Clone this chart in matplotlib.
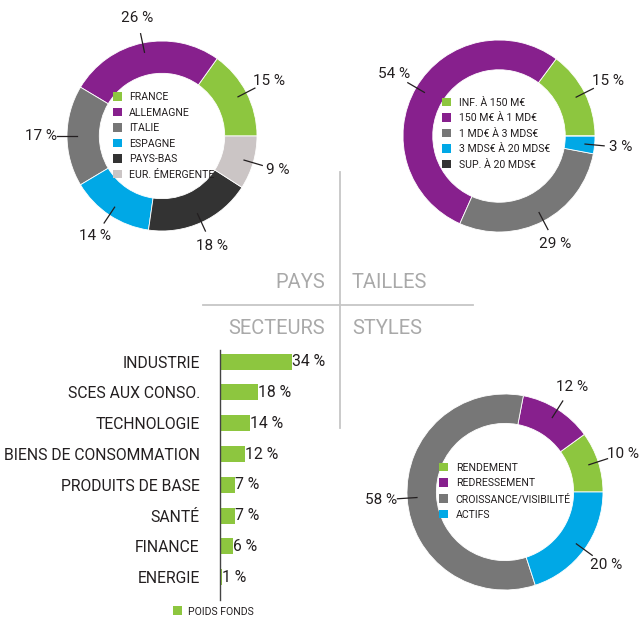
import numpy as np
import matplotlib
matplotlib.use("Agg")
import matplotlib.pyplot as plt
from matplotlib.lines import Line2D
from matplotlib.patches import Patch

plt.rcParams['font.family'] = ['Roboto', 'DejaVu Sans']

W, H = 643, 619
DARK = '#231f20'
GREEN = '#8dc63f'
PURPLE = '#87208d'
GRAY = '#777777'
BLUE = '#00a8e6'
BLACK = '#333333'
LIGHT = '#cbc5c5'

# --- data ---
pays_labels = ["FRANCE", "ALLEMAGNE", "ITALIE", "ESPAGNE", "PAYS-BAS", "EUR. ÉMERGENTE"]
pays_values = [15, 26, 17, 14, 18, 9]
pays_colors = [GREEN, PURPLE, GRAY, BLUE, BLACK, LIGHT]

tailles_labels = ["INF. À 150 M€", "150 M€ À 1 MD€", "1 MD€ À 3 MDS€", "3 MDS€ À 20 MDS€", "SUP. À 20 MDS€"]
tailles_values = [15, 54, 29, 3, 0]
tailles_colors = [GREEN, PURPLE, GRAY, BLUE, BLACK]

styles_labels = ["RENDEMENT", "REDRESSEMENT", "CROISSANCE/VISIBILITÉ", "ACTIFS"]
styles_values = [10, 12, 58, 20]
styles_colors = [GREEN, PURPLE, GRAY, BLUE]

secteurs = ["INDUSTRIE", "SCES AUX CONSO.", "TECHNOLOGIE", "BIENS DE CONSOMMATION",
            "PRODUITS DE BASE", "SANTÉ", "FINANCE", "ENERGIE"]
secteurs_values = [34, 18, 14, 12, 7, 7, 6, 1]

fig = plt.figure(figsize=(W / 100, H / 100), dpi=100)


def px_box(left, top, width, height):
    return [left / W, 1 - (top + height) / H, width / W, height / H]


def donut(cx, cy, R, values, colors, labels, ring, leg_xy):
    half = 1.5 * R
    ax = fig.add_axes(px_box(cx - half, cy - half, 2 * half, 2 * half))
    wedges, _ = ax.pie(values, colors=colors, startangle=0, radius=1,
                       wedgeprops=dict(width=ring, edgecolor='white', linewidth=0.6))
    for w, v in zip(wedges, values):
        if v == 0:
            continue
        t = np.deg2rad((w.theta1 + w.theta2) / 2)
        ax.plot([0.9 * np.cos(t), 1.1 * np.cos(t)], [0.9 * np.sin(t), 1.1 * np.sin(t)],
                color=DARK, lw=0.9)
        ax.text(1.27 * np.cos(t), 1.27 * np.sin(t), f"{v} %", ha='center', va='center',
                fontsize=11, color=DARK)
    handles = [Patch(facecolor=c, edgecolor='none') for c in colors]
    ax.legend(handles, labels, loc='upper left', bbox_to_anchor=leg_xy,
              bbox_transform=ax.transData, frameon=False, fontsize=7.6,
              handlelength=0.85, handleheight=0.85, handletextpad=0.7,
              labelspacing=0.52, borderpad=0, borderaxespad=0, labelcolor=DARK)
    ax.set_xlim(-1.5, 1.5)
    ax.set_ylim(-1.5, 1.5)
    ax.set_aspect('equal')
    ax.axis('off')
    return ax


donut(162, 136, 95, pays_values, pays_colors, pays_labels, 0.34, (-0.52, 0.46))
donut(499, 136, 96, tailles_values, tailles_colors, tailles_labels, 0.31, (-0.59, 0.40))
donut(505, 492, 98, styles_values, styles_colors, styles_labels, 0.30, (-0.67, 0.30))

# --- bar chart (secteurs) ---
bx = fig.add_axes(px_box(220, 350, 140, 250))
y = np.arange(len(secteurs))
bars = bx.barh(y, secteurs_values, height=0.52, color=GREEN, label="POIDS FONDS")
for yi, v in zip(y, secteurs_values):
    bx.text(v, yi, f"{v} %", ha='left', va='center', fontsize=11.3, color=DARK)
bx.set_xlim(0, 140 / 2.12)
bx.set_ylim(7.74, -0.38)
bx.set_yticks(y)
bx.set_yticklabels(secteurs, fontsize=11.3, color=DARK)
bx.tick_params(axis='y', length=0, pad=14.5)
bx.set_xticks([])
for s in ['top', 'right', 'bottom']:
    bx.spines[s].set_visible(False)
bx.spines['left'].set_color('#444444')
bx.spines['left'].set_linewidth(1)
bx.patch.set_alpha(0)
bx.legend(loc='center left', bbox_to_anchor=(173 / W, 1 - 611.5 / H),
          bbox_transform=fig.transFigure, frameon=False, fontsize=7.6,
          handlelength=0.9, handleheight=0.9, handletextpad=0.5,
          borderpad=0, borderaxespad=0, labelcolor=DARK)

# --- central cross ---
fig.add_artist(Line2D([340 / W, 340 / W], [1 - 172 / H, 1 - 428 / H],
                      transform=fig.transFigure, color='#c6c6c6', lw=1.3))
fig.add_artist(Line2D([203 / W, 473 / W], [1 - 305 / H, 1 - 305 / H],
                      transform=fig.transFigure, color='#c6c6c6', lw=1.3))
for txt, x, yy, ha in [("PAYS", 325, 283, 'right'), ("TAILLES", 352, 283, 'left'),
                       ("SECTEURS", 325, 328, 'right'), ("STYLES", 352, 328, 'left')]:
    fig.text(x / W, 1 - yy / H, txt, ha=ha, va='center', fontsize=14.5, color='#a9a9a9')

fig.savefig("out.png", dpi=100)
